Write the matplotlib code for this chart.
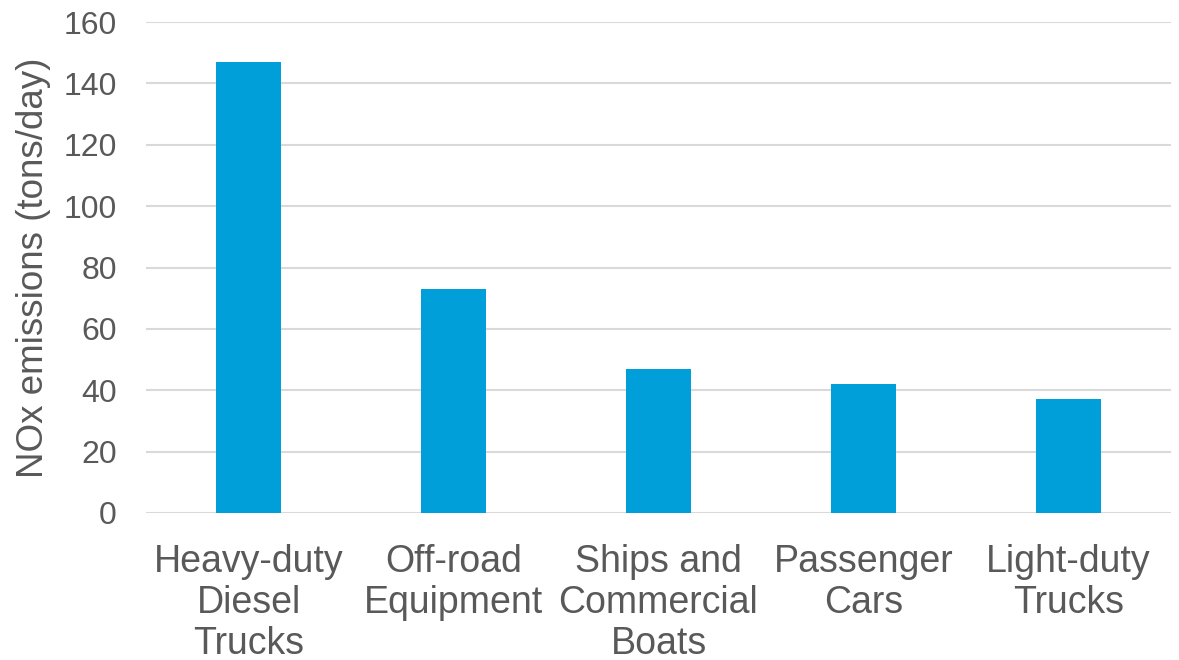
import matplotlib
matplotlib.use("Agg")
import matplotlib.pyplot as plt

categories = ["Heavy-duty\nDiesel\nTrucks", "Off-road\nEquipment", "Ships and\nCommercial\nBoats",
              "Passenger\nCars", "Light-duty\nTrucks"]
values = [147, 73, 47, 42, 37]
yticks = [0, 20, 40, 60, 80, 100, 120, 140, 160]

plt.rcParams['font.family'] = ['Liberation Sans', 'DejaVu Sans']
text_color = '#595959'

fig = plt.figure(figsize=(11.79, 6.6), dpi=100)
ax = fig.add_axes([146/1179, 1 - 513/660, (1171-146)/1179, (513-22)/660])

x = list(range(len(categories)))
ax.bar(x, values, width=0.32, color='#009FDA', zorder=3)
ax.set_xlim(-0.5, len(categories) - 0.5)
ax.set_ylim(0, 160)
ax.set_yticks(yticks)
ax.set_yticklabels([str(t) for t in yticks])
ax.set_xticks(x)
ax.set_xticklabels(categories, linespacing=1.18, fontsize=27)
ax.yaxis.grid(True, color='#D9D9D9', linewidth=1.5, zorder=0)
ax.set_axisbelow(True)
for s in ax.spines.values():
    s.set_visible(False)
ax.tick_params(axis='y', length=0, labelsize=23, colors=text_color, pad=21)
ax.tick_params(axis='x', length=0, colors=text_color, pad=22)
ax.set_ylabel("NOx emissions (tons/day)", fontsize=26.5, color=text_color, labelpad=9)

fig.savefig("out.png", dpi=100)
